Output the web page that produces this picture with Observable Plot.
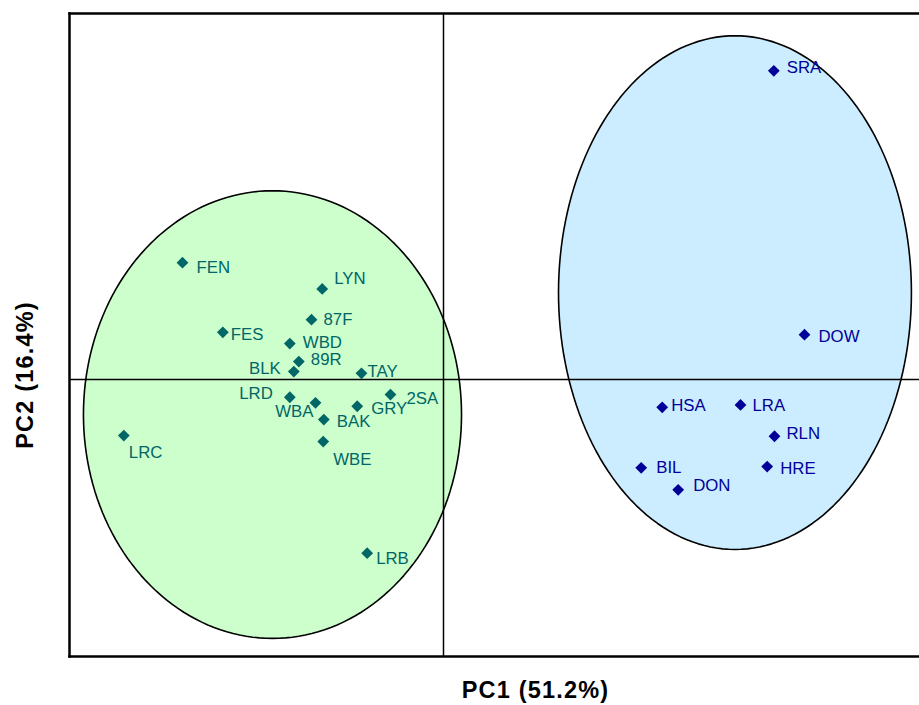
<!DOCTYPE html>
<html>
<head>
<meta charset="utf-8">
<script src="https://cdn.jsdelivr.net/npm/d3@7"></script>
<script src="https://cdn.jsdelivr.net/npm/@observablehq/plot@0.6"></script>
<style>
  html, body { margin: 0; padding: 0; background: #fff; }
  #chart svg { display: block; }
</style>
</head>
<body>
<div id="chart"></div>
<script>
// PCA scores for each sampling site
const sites = ["FEN","LYN","87F","FES","WBD","89R","BLK","TAY","LRD","WBA","2SA","GRY","BAK","WBE","LRC","LRB",
               "SRA","DOW","HSA","LRA","RLN","BIL","HRE","DON"];
const pc1 = [-3.071,-1.427,-1.553,-2.596,-1.808,-1.702,-1.761,-0.965,-1.808,-1.506,-0.624,-1.015,-1.408,-1.415,-3.761,-0.898,
              3.886, 4.247, 2.573, 3.494, 3.894, 2.326, 3.808, 2.761];
const pc2 = [ 1.376, 1.067, 0.706, 0.556, 0.424, 0.212, 0.094, 0.074,-0.208,-0.274,-0.176,-0.314,-0.471,-0.729,-0.659,-2.044,
              3.635, 0.529,-0.326,-0.298,-0.667,-1.039,-1.024,-1.298];
const group = ["A","A","A","A","A","A","A","A","A","A","A","A","A","A","A","A",
               "B","B","B","B","B","B","B","B"];

// Group ellipses: centre and semi-axes in PC units
const groupNames = ["A", "B"];
const ellipseCx = [-2.012, 3.429];
const ellipseCy = [-0.412, 1.024];
const ellipseRx = [2.224, 2.076];
const ellipseRy = [2.635, 3.024];

const axisTitles = ["PC1 (51.2%)", "PC2 (16.4%)"];

// styling per group
const fillColor = {A: "#ccffcc", B: "#ccecff"};
const markColor = {A: "#006666", B: "#000099"};

// label placement around each marker: [anchor, dx, dy]
const labelNudge = {
  FEN: ["start", 14, 5],  LYN: ["start", 12, -10], "87F": ["start", 12, 0], FES: ["start", 8, 2],
  WBD: ["start", 13, -1], "89R": ["start", 12, -2], BLK: ["end", -13, -3],  TAY: ["start", 6, -1.5],
  LRD: ["end", -17, -3.5], WBA: ["end", -2, 8.5],   "2SA": ["start", 16, 4], GRY: ["start", 14, 2],
  BAK: ["start", 13, 2],  WBE: ["start", 10, 18.5], LRC: ["start", 5, 17.5], LRB: ["start", 9, 5],
  SRA: ["start", 13, -3], DOW: ["start", 14, 2],    HSA: ["start", 9, -1.5], LRA: ["start", 12, 1],
  RLN: ["start", 12, -3], BIL: ["start", 15, 0],    HRE: ["start", 13, 2],   DON: ["start", 15, -4]
};

const points = sites.map((s, i) => ({site: s, pc1: pc1[i], pc2: pc2[i], group: group[i]}));

// outline of each group ellipse
const ellipsePts = groupNames.flatMap((g, i) =>
  d3.range(0, 361, 2).map(a => {
    const t = a * Math.PI / 180;
    return {group: g, x: ellipseCx[i] + ellipseRx[i] * Math.cos(t), y: ellipseCy[i] + ellipseRy[i] * Math.sin(t)};
  })
);

const font = "'Liberation Sans', Arial, sans-serif";

const labelMarks = points.map(d => {
  const [anchor, dx, dy] = labelNudge[d.site];
  return Plot.text([d], {
    x: "pc1", y: "pc2", text: "site",
    textAnchor: anchor, lineAnchor: "middle", dx, dy,
    fill: markColor[d.group], fontSize: 16.8, fontFamily: font
  });
});

const chart = Plot.plot({
  width: 919,
  height: 705,
  marginLeft: 69,
  marginRight: 0,
  marginTop: 13,
  marginBottom: 49,
  style: {fontFamily: font, background: "#fff"},
  x: {domain: [-4.4, 5.6], axis: null},
  y: {domain: [-3.26, 4.31], axis: null},
  marks: [
    ...groupNames.map(g => Plot.line(ellipsePts.filter(p => p.group === g), {
      x: "x", y: "y", curve: "linear-closed",
      fill: fillColor[g], stroke: "#000", strokeWidth: 1.6
    })),
    Plot.ruleY([0], {stroke: "#000", strokeWidth: 1.5}),
    Plot.ruleX([0], {stroke: "#000", strokeWidth: 1.5}),
    Plot.frame({anchor: "top", stroke: "#000", strokeWidth: 2.5}),
    Plot.frame({anchor: "left", stroke: "#000", strokeWidth: 2.5}),
    Plot.frame({anchor: "bottom", stroke: "#000", strokeWidth: 2.5}),
    Plot.dot(points, {
      x: "pc1", y: "pc2", symbol: "square", rotate: 45, r: 4.7,
      fill: d => markColor[d.group], stroke: "none"
    }),
    ...labelMarks,
    Plot.text([axisTitles[0]], {
      frameAnchor: "bottom", dx: 41, dy: 34, textAnchor: "middle", lineAnchor: "middle",
      fontSize: 23.5, fontWeight: "bold", fill: "#000", fontFamily: font
    }),
    Plot.text([axisTitles[1]], {
      frameAnchor: "left", dx: -44, dy: 40, rotate: -90, textAnchor: "middle", lineAnchor: "middle",
      fontSize: 23.5, fontWeight: "bold", fill: "#000", fontFamily: font
    })
  ]
});

// widen the bold axis titles a little
d3.select(chart).selectAll("text")
  .filter(function() { return axisTitles.includes(this.textContent); })
  .style("letter-spacing", "1.2px");

document.getElementById("chart").appendChild(chart);
</script>
</body>
</html>
